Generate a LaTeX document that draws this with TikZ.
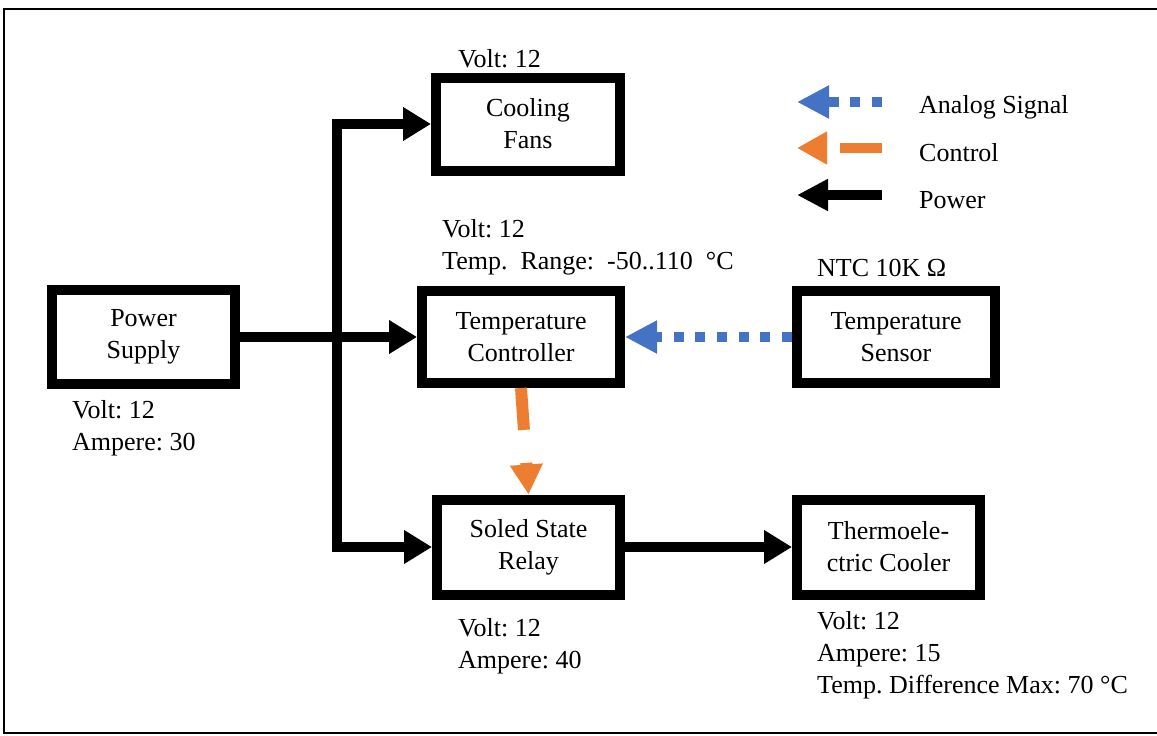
\documentclass[tikz,border=0pt]{standalone}
\usepackage{fontspec}
\setmainfont{Liberation Serif}
\usetikzlibrary{arrows.meta}
\definecolor{sigblue}{HTML}{4472C4}
\definecolor{ctlorange}{HTML}{ED7D31}
\tikzset{
  blk/.style={draw, line width=10pt, inner sep=0pt, align=center, font=\fontsize{26}{32}\selectfont\frenchspacing},
  lbl/.style={anchor=base west, inner sep=0pt, align=left, font=\fontsize{26}{32}\selectfont\frenchspacing},
  pw/.style={line width=10pt, line join=miter},
  sig/.style={line width=10pt, draw=sigblue, dash pattern=on 10pt off 11.7pt},
  ctl/.style={line width=12pt, draw=ctlorange, dash pattern=on 42pt off 33pt},
  tipk/.tip={Triangle[length=28pt,width=32pt]},
  tipb/.tip={Triangle[length=32pt,width=31pt,color=sigblue]},
  tipo/.tip={Triangle[length=30pt,width=31pt,color=ctlorange]},
}
\begin{document}
\begin{tikzpicture}[x=1pt,y=-1pt]
\useasboundingbox (0,0) rectangle (1157,736);
% frame
\draw[line width=2.5pt] (1160,9) -- (4,9) -- (4,733) -- (1160,733);
% boxes
\node[blk, minimum width=183pt, minimum height=94pt] (ps) at (143.5,337) {Power\\Supply};
\node[blk, minimum width=184pt, minimum height=93pt] (cf) at (528,124) {Cooling\\Fans};
\node[blk, minimum width=198pt, minimum height=92pt] (tc) at (521,337) {Temperature\\Controller};
\node[blk, minimum width=198pt, minimum height=92pt] (ts) at (896,337) {Temperature\\Sensor};
\node[blk, minimum width=183pt, minimum height=95pt] (ssr) at (528.5,547) {Soled State\\Relay};
\node[blk, minimum width=183pt, minimum height=95pt] (tec) at (888.5,547) {Thermoele-\\ctric Cooler};
% labels (anchor = baseline of last line)
\node[lbl] (l1) at (458,67) {Volt: 12};
\node[lbl] (l2) at (442,269) {Volt: 12\\Temp.\ \ Range:\ \ -50..110\ \ °C};
\node[lbl] (l3) at (817,276) {NTC 10K Ω};
\node[lbl] (l4) at (72,450) {Volt: 12\\Ampere: 30};
\node[lbl] (l5) at (458,668) {Volt: 12\\Ampere: 40};
\node[lbl] (l6) at (817,693) {Volt: 12\\Ampere: 15\\Temp. Difference Max: 70 °C};
% power connectors
\coordinate (busx) at (337,0);
\draw[pw,-tipk] (ps.east) -- (tc.west);
\draw[pw,tipk-tipk] (ssr.west) -- (ssr.west -| busx) -- (cf.west -| busx) -- (cf.west);
\draw[pw,-tipk] (ssr.east) -- (tec.west);
% signal
\draw[sig,-tipb] (ts.west) -- (tc.east);
\draw[ctl,-tipo] (tc.south) -- (ssr.north);
% legend
\coordinate (la1) at (882,102);
\coordinate (lb1) at (797,102);
\coordinate (la2) at (882,148);
\coordinate (lb2) at (797,148);
\coordinate (la3) at (882,195);
\coordinate (lb3) at (797,195);
\draw[sig,-tipb] (la1) -- (lb1);
\draw[ctl,line width=10pt,-tipo] (la2) -- (lb2);
\draw[pw,-{Triangle[length=31pt,width=30pt]}] (la3) -- (lb3);
\node[lbl] (t1) at (919,113) {Analog Signal};
\node[lbl] (t2) at (919,161) {Control};
\node[lbl] (t3) at (919,208) {Power};
\end{tikzpicture}
\end{document}
